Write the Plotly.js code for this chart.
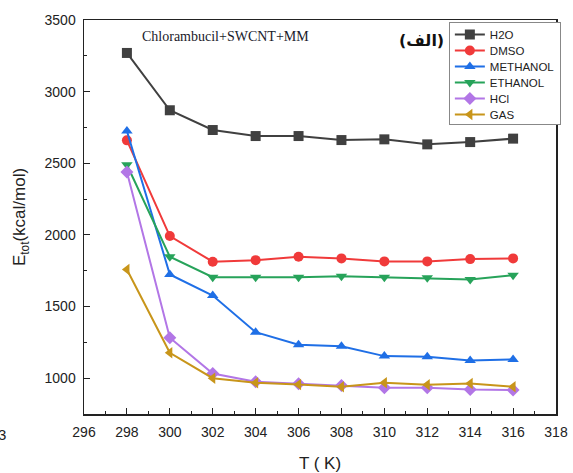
<!DOCTYPE html>
<html><head><meta charset="utf-8">
<script src="https://cdn.plot.ly/plotly-3.0.1.min.js"></script>
<style>html,body{margin:0;padding:0;background:#fff}#chart{width:573px;height:473px}</style>
</head><body><div id="chart"></div>
<script>
const temps = [298,300,302,304,306,308,310,312,314,316];
const h2o = [3270,2870,2732,2690,2690,2662,2667,2632,2648,2672];
const dmso = [2660,1992,1813,1824,1848,1836,1815,1815,1831,1836];
const methanol = [2725,1724,1577,1321,1233,1223,1154,1149,1124,1131];
const ethanol = [2490,1848,1705,1705,1705,1712,1705,1701,1689,1719];
const hcl = [2439,1282,1033,975,961,949,933,933,921,917];
const gas = [1759,1177,1000,968,956,940,968,954,963,940];
const names = ['H2O','DMSO','METHANOL','ETHANOL','HCl','GAS'];
const colors = ['#404040','#f03a3a','#1f6fe6','#27a35a','#b276e6','#c8951a'];
const symbols = ['square','circle','triangle-up','triangle-down','diamond','triangle-left'];
const series = [h2o,dmso,methanol,ethanol,hcl,gas];

const traces = series.map((s,i)=>({
  x: temps, y: s, name: names[i], type:'scatter', mode:'lines+markers',
  line:{color:colors[i], width:2},
  marker:{color:colors[i], symbol:symbols[i], size:10}
}));

const layout = {
  width:573, height:473,
  margin:{l:83.5, r:16.5, t:20, b:59},
  paper_bgcolor:'#fff', plot_bgcolor:'#fff',
  font:{family:'Liberation Sans, Arial, sans-serif', color:'#222'},
  showlegend:true,
  legend:{x:0.773, y:0.995, xanchor:'left', yanchor:'top', bordercolor:'#888', borderwidth:1,
    font:{size:11.5, color:'#222'}, itemwidth:30, tracegroupgap:0, bgcolor:'#fff'},
  xaxis:{range:[296,318], dtick:2, tick0:296, showgrid:false, zeroline:false,
    showline:true, linecolor:'#222', linewidth:1.5, mirror:true,
    ticks:'inside', ticklen:6, tickcolor:'#222', ticklabelstandoff:5,
    minor:{dtick:1, ticks:'inside', ticklen:3, tickcolor:'#222'},
    tickfont:{size:14, color:'#222'},
    title:{text:'T ( K)', font:{size:17, color:'#222'}, standoff:20}},
  yaxis:{range:[750,3500], dtick:500, tick0:0, showgrid:false, zeroline:false,
    showline:true, linecolor:'#222', linewidth:1.5, mirror:true,
    ticks:'inside', ticklen:6, tickcolor:'#222', ticklabelstandoff:4,
    minor:{dtick:250, ticks:'inside', ticklen:3, tickcolor:'#222'},
    tickfont:{size:14, color:'#222'},
    title:{text:'E<sub>tot</sub>(kcal/mol)', font:{size:17, color:'#222'}, standoff:14}},
  annotations:[
    {text:'Chlorambucil+SWCNT+MM', xref:'paper', yref:'paper',
     x:(225-83.5)/473, y:(414-37)/394, xanchor:'center', yanchor:'middle', showarrow:false,
     font:{family:'Liberation Serif, Times New Roman, serif', size:14, color:'#1a1a2a'}},
    {text:'<b>(الف)</b>', xref:'paper', yref:'paper',
     x:(422-83.5)/473, y:(414-40)/394, xanchor:'center', yanchor:'middle', showarrow:false,
     font:{family:'DejaVu Sans, sans-serif', size:16, color:'#111'}},
    {text:'3', xref:'paper', yref:'paper',
     x:(7-83.5)/473, y:(414-434)/394, xanchor:'right', yanchor:'middle', showarrow:false,
     font:{size:15, color:'#222'}}
  ]
};
Plotly.newPlot('chart', traces, layout, {displayModeBar:false, staticPlot:true}).then(function(gd){
  // compact the legend rows to match the original spacing
  const items = gd.querySelectorAll('.legend .traces');
  const step = 16;
  let y0 = null;
  items.forEach(function(el, i){
    const tr = el.getAttribute('transform') || '';
    const m = tr.match(/translate\(([-\d.]+)[ ,]+([-\d.]+)\)/);
    if(!m) return;
    const x = parseFloat(m[1]); const y = parseFloat(m[2]);
    if(y0 === null) y0 = y - 3;
    el.setAttribute('transform', 'translate(' + x + ',' + (y0 + i*step) + ')');
  });
  const total = y0 + step*(items.length - 1) + 10;
  const bg = gd.querySelector('.legend .bg');
  if(bg){ bg.setAttribute('height', String(total)); }
  gd.querySelectorAll('clipPath rect').forEach(function(r){
    const p = r.parentNode;
    if(p && p.id && p.id.indexOf('legend') >= 0){ r.setAttribute('height', '400'); }
  });
});
</script></body></html>
